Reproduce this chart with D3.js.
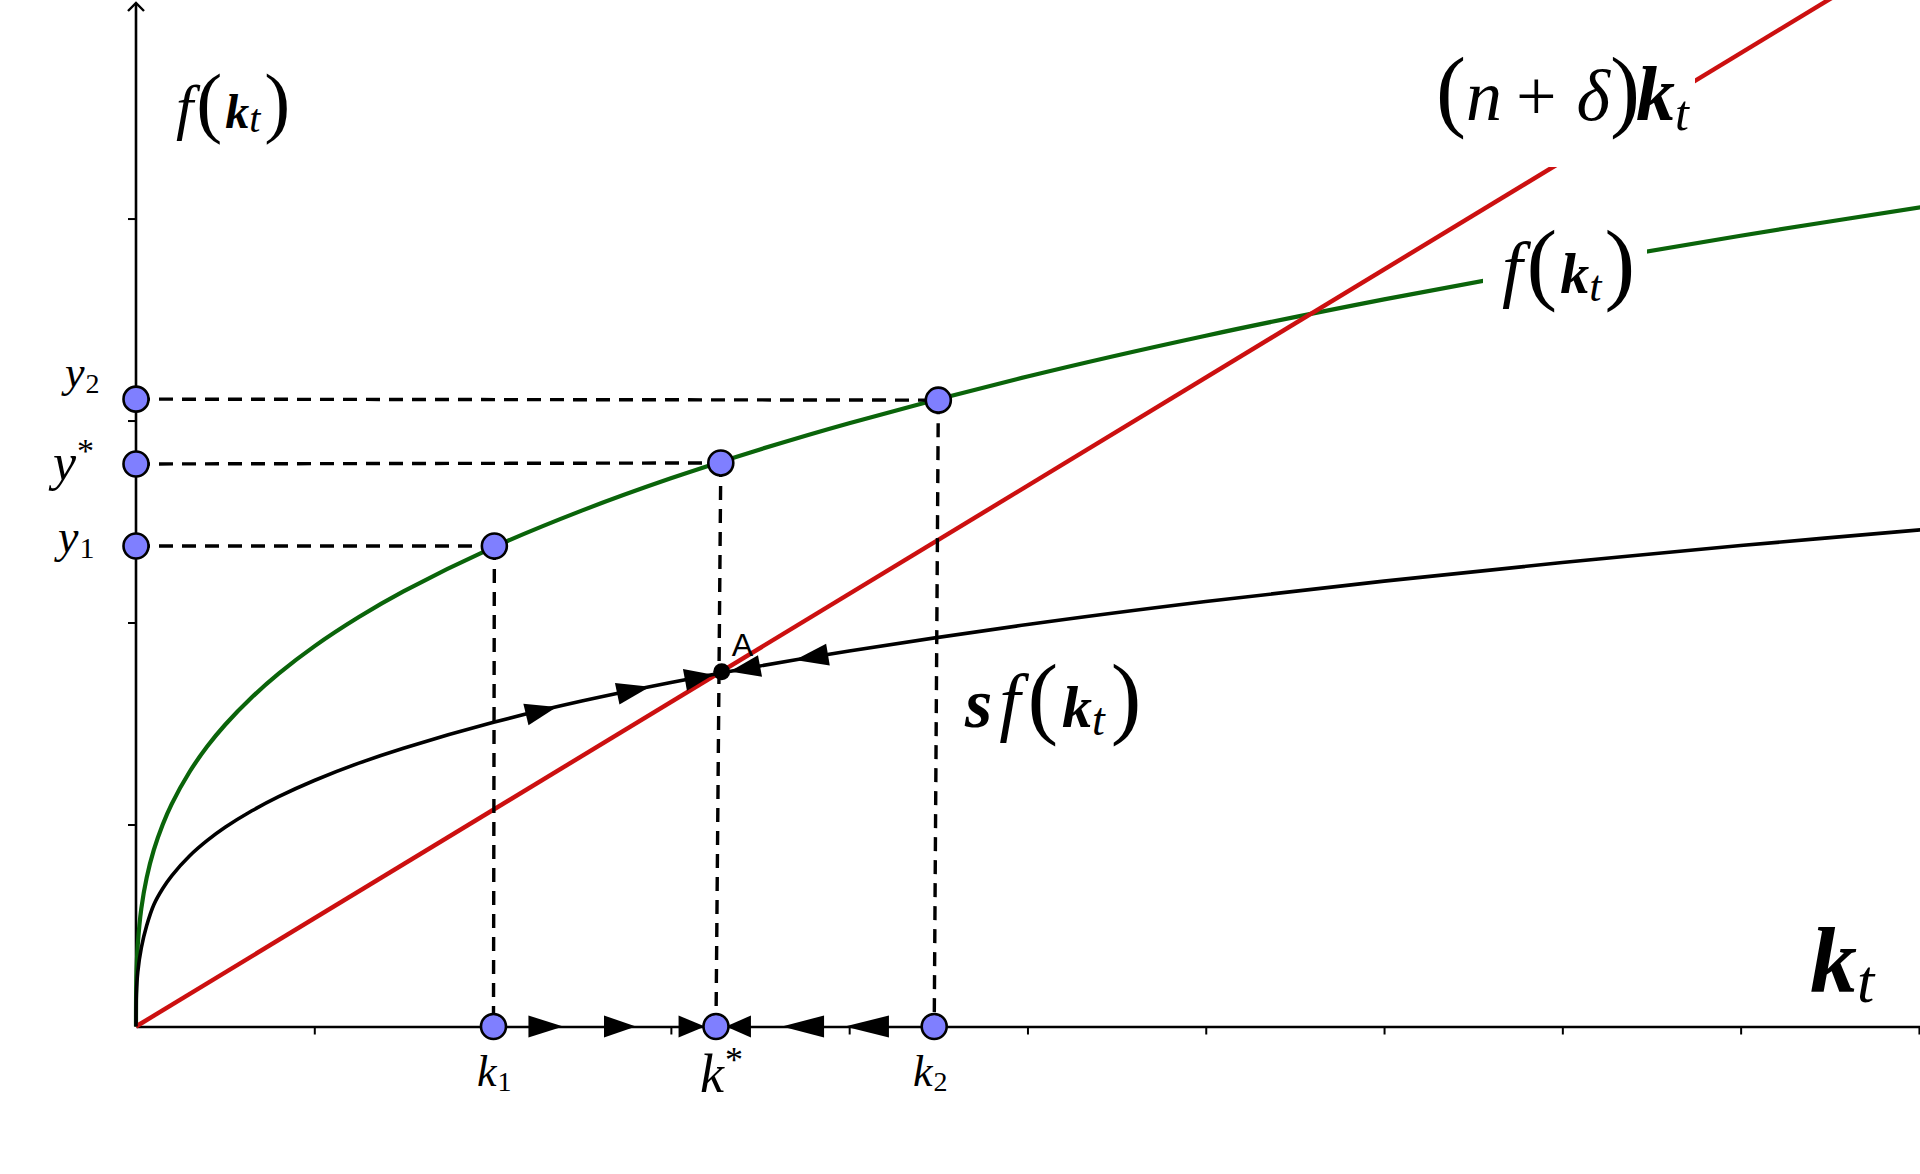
<!DOCTYPE html>
<html><head><meta charset="utf-8">
<script src="https://cdn.jsdelivr.net/npm/d3@7"></script>
<style>html,body{margin:0;padding:0;background:#fff;} svg{display:block;}</style>
</head><body><svg id="chart" width="1920" height="1174"></svg>
<script>
// ---------------- data ----------------
const kGrid    = [0, 0.002, 0.01, 0.03, 0.06, 0.1, 0.15, 0.2, 0.3, 0.4, 0.5, 0.65, 0.8, 1, 1.25, 1.5, 2, 2.5, 3, 3.5, 4, 5, 6, 7, 8, 9, 10.1];
const fValues  = [0, 0.237, 0.405, 0.585, 0.737, 0.874, 1.000, 1.101, 1.260, 1.387, 1.494, 1.630, 1.747, 1.882, 2.027, 2.154, 2.371, 2.554, 2.714, 2.857, 2.987, 3.218, 3.420, 3.600, 3.764, 3.915, 4.068];
const sfValues = [0, 0.160, 0.270, 0.390, 0.500, 0.603, 0.683, 0.746, 0.844, 0.921, 0.986, 1.068, 1.138, 1.218, 1.304, 1.378, 1.505, 1.611, 1.703, 1.785, 1.859, 1.990, 2.104, 2.205, 2.297, 2.381, 2.466];
const breakEvenK      = [0, 9.6];
const breakEvenValues = [0, 5.14];

const outputLabels   = ["y1", "y*", "y2"];
const outputLevels   = [2.379, 2.785, 3.106];
const capitalLabels  = ["k1", "k*", "k2"];
const capitalLevels  = [2.005, 3.253, 4.477];
const onCurveK       = [2.01, 3.28, 4.50];
const onCurveF       = [2.379, 2.790, 3.101];
const steadyState    = [3.285, 1.756];
const curveArrows    = [[2.187, 2.360], [2.699, 2.883], [3.079, 3.238], [3.500, 3.331], [3.881, 3.696]];
const axisArrows     = [[2.201, 2.396], [2.625, 2.804], [3.043, 3.191], [3.449, 3.309], [3.859, 3.623], [4.223, 3.976]];
const xTicks = [1, 2, 3, 4, 5, 6, 7, 8, 9, 10];
const yTicks = [1, 2, 3, 4];

// ---------------- layout ----------------
const W = 1920, H = 1174;
const svg = d3.select("#chart");
svg.append("rect").attr("width", W).attr("height", H).attr("fill", "#fff");

const x = d3.scaleLinear().domain([0, 10.006]).range([136, 1920]);
const y = d3.scaleLinear().domain([0, 5.082]).range([1026.5, 0]);
const sfAt = d3.scaleLinear().domain(kGrid).range(sfValues);

const RED = "#cc1010", GREEN = "#0a640a", BLUE = "#7f7fff";
const SERIF = "Liberation Serif";

// axes
const xAxis = d3.axisBottom(x).tickValues(xTicks).tickSize(8).tickSizeOuter(0).tickFormat("");
const gx = svg.append("g").attr("transform", `translate(0,${y(0)})`).call(xAxis);
gx.select(".domain").attr("stroke", "#000").attr("stroke-width", 2.6);
gx.selectAll(".tick line").attr("stroke", "#000").attr("stroke-width", 2);

const yAxis = d3.axisLeft(y).tickValues(yTicks).tickSize(8).tickSizeOuter(0).tickFormat("");
const gy = svg.append("g").attr("transform", `translate(${x(0)},0)`).call(yAxis);
gy.select(".domain").attr("stroke", "#000").attr("stroke-width", 2.6).attr("d", `M0,${y(0)}V3`);
gy.selectAll(".tick line").attr("stroke", "#000").attr("stroke-width", 2);
svg.append("path").attr("d", `M${x(0)-8},11L${x(0)},3L${x(0)+8},11`)
   .attr("fill", "none").attr("stroke", "#000").attr("stroke-width", 2.4);

// curves
const line = d3.line().x(d => x(d[0])).y(d => y(d[1])).curve(d3.curveCatmullRom.alpha(0.5));
svg.append("path").datum(kGrid.map((k, i) => [k, fValues[i]]))
   .attr("d", line).attr("fill", "none").attr("stroke", GREEN).attr("stroke-width", 4.2);
svg.append("path").datum(breakEvenK.map((k, i) => [k, breakEvenValues[i]]))
   .attr("d", d3.line().x(d => x(d[0])).y(d => y(d[1]))).attr("fill", "none")
   .attr("stroke", RED).attr("stroke-width", 4.4);
svg.append("path").datum(kGrid.map((k, i) => [k, sfValues[i]]))
   .attr("d", line).attr("fill", "none").attr("stroke", "#000").attr("stroke-width", 3.6);

// dashed guides
const dash = svg.append("g").attr("stroke", "#000").attr("stroke-width", 3.4).attr("stroke-dasharray", "14,9").attr("fill", "none");
onCurveK.forEach((k, i) => {
  dash.append("line").attr("x1", x(0)).attr("y1", y(outputLevels[i])).attr("x2", x(k)).attr("y2", y(onCurveF[i]));
  dash.append("line").attr("x1", x(k)).attr("y1", y(onCurveF[i])).attr("x2", x(capitalLevels[i])).attr("y2", y(0));
});

// label backgrounds (hide the lines behind the curve names)
svg.append("rect").attr("x", 1425).attr("y", 40).attr("width", 270).attr("height", 127).attr("fill", "#fff");
svg.append("rect").attr("x", 1483).attr("y", 222).attr("width", 164).attr("height", 100).attr("fill", "#fff");

// arrows
function tri(x0, y0, x1, y1, h) {
  const dx = x1 - x0, dy = y1 - y0, L = Math.hypot(dx, dy), nx = -dy / L * h, ny = dx / L * h;
  return `M${x1},${y1}L${x0 + nx},${y0 + ny}L${x0 - nx},${y0 - ny}Z`;
}
svg.append("g").selectAll("path").data(curveArrows).join("path")
   .attr("d", d => tri(x(d[0]), y(sfAt(d[0])), x(d[1]), y(sfAt(d[1])), 11)).attr("fill", "#000");
svg.append("g").selectAll("path").data(axisArrows).join("path")
   .attr("d", d => tri(x(d[0]), y(0), x(d[1]), y(0), 11)).attr("fill", "#000");

// points
const pts = [];
outputLevels.forEach(v => pts.push([0, v]));
capitalLevels.forEach(v => pts.push([v, 0]));
onCurveK.forEach((k, i) => pts.push([k, onCurveF[i]]));
svg.append("g").selectAll("circle").data(pts).join("circle")
   .attr("cx", d => x(d[0])).attr("cy", d => y(d[1])).attr("r", 12.5)
   .attr("fill", BLUE).attr("stroke", "#000").attr("stroke-width", 2.6);
svg.append("circle").attr("cx", x(steadyState[0])).attr("cy", y(steadyState[1])).attr("r", 8.5).attr("fill", "#000");
svg.append("text").attr("x", x(steadyState[0]) + 10).attr("y", y(steadyState[1]) - 16)
   .attr("font-family", "Liberation Sans").attr("font-size", 32).text("A");

// math-like labels: one <text> per glyph group, laid out by measured width
function mathText(x0, y0, pieces) {
  const g = svg.append("g");
  let cx = x0;
  pieces.forEach(p => {
    cx += p.dx || 0;
    const t = g.append("text").attr("x", cx).attr("y", y0 + (p.base || 0))
      .attr("font-family", SERIF).attr("font-size", p.size).attr("fill", "#000")
      .attr("font-style", p.it ? "italic" : "normal")
      .attr("font-weight", p.b ? "bold" : "normal").text(p.t);
    cx += t.node().getComputedTextLength();
  });
}
// f(k_t) near the vertical axis
mathText(176, 128, [
  {t: "f", size: 62, it: 1}, {t: "(", size: 78, dx: 3}, {t: "k", size: 48, it: 1, b: 1, dx: 3},
  {t: "t", size: 40, it: 1, base: 4, dx: 0}, {t: ")", size: 78, dx: 4}]);
// (n+δ)k_t
mathText(1436, 120, [
  {t: "(", size: 90}, {t: "n", size: 72, it: 1}, {t: "+", size: 72, dx: 14}, {t: "δ", size: 72, it: 1, dx: 20},
  {t: ")", size: 90}, {t: "k", size: 78, it: 1, b: 1, dx: -4}, {t: "t", size: 50, it: 1, base: 10, dx: 0}]);
// f(k_t) on the production curve
mathText(1502, 293, [
  {t: "f", size: 74, it: 1}, {t: "(", size: 92, dx: 4}, {t: "k", size: 58, it: 1, b: 1, dx: 3},
  {t: "t", size: 44, it: 1, base: 8, dx: 0}, {t: ")", size: 92, dx: 3}]);
// s f(k_t)
mathText(965, 727, [
  {t: "s", size: 70, it: 1, b: 1}, {t: "f", size: 76, it: 1, dx: 7}, {t: "(", size: 92, dx: 7},
  {t: "k", size: 60, it: 1, b: 1, dx: 4}, {t: "t", size: 46, it: 1, base: 8, dx: 0}, {t: ")", size: 92, dx: 6}]);
// k_t on the horizontal axis
mathText(1810, 992, [{t: "k", size: 94, it: 1, b: 1}, {t: "t", size: 62, it: 1, base: 10, dx: 0}]);

// axis point names
const nameStyle = {
  "y2": {x: 65, y: 387, main: 44, sub: 28, base: 6},
  "y*": {x: 53, y: 480, main: 52, sub: 34, base: -18},
  "y1": {x: 58, y: 552, main: 46, sub: 30, base: 6},
  "k1": {x: 477, y: 1086, main: 44, sub: 28, base: 5},
  "k*": {x: 700, y: 1092, main: 54, sub: 36, base: -20},
  "k2": {x: 913, y: 1086, main: 44, sub: 28, base: 5}
};
outputLabels.concat(capitalLabels).forEach(n => {
  const s = nameStyle[n];
  mathText(s.x, s.y, [{t: n[0], size: s.main, it: 1}, {t: n.slice(1), size: s.sub, base: s.base, dx: 1}]);
});
</script></body></html>
